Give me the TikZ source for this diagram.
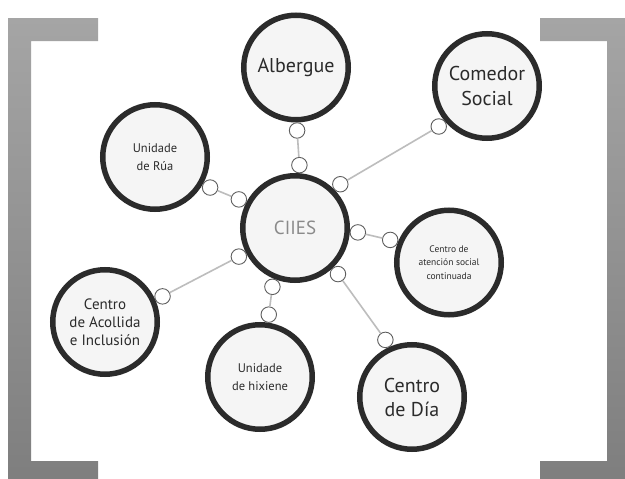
\documentclass[tikz,border=0pt]{standalone}
\usepackage{fontspec}
\setmainfont{PT Sans}
\usetikzlibrary{calc}
\definecolor{ring}{HTML}{2B2B2B}
\definecolor{disc}{HTML}{F5F5F5}
\definecolor{dotline}{HTML}{5E5E5E}
\definecolor{link}{HTML}{BDBDBD}
\definecolor{brtop}{HTML}{A5A5A5}
\definecolor{brbot}{HTML}{7E7E7E}
\definecolor{hubtext}{HTML}{8A8A8A}
\tikzset{
  big/.style={circle, draw=ring, fill=disc, line width=5.5pt, minimum size=104.5pt,
    inner sep=0pt, align=center, text=ring},
  dot/.style={circle, draw=dotline, fill=white, line width=0.9pt, minimum size=15.5pt, inner sep=0pt},
  link/.style={draw=link, line width=1.6pt},
  bracket/.style={top color=brtop, bottom color=brbot, draw=none},
  large/.style={font=\fontsize{20}{25}\selectfont},
  medium/.style={font=\fontsize{15}{18}\selectfont},
  small/.style={font=\fontsize{12.5}{18}\selectfont},
  tiny/.style={font=\fontsize{9.5}{13.5}\selectfont}
}
\begin{document}
\begin{tikzpicture}[x=1pt,y=-1pt]
\useasboundingbox (0,0) rectangle (625,479);
\clip (0,0) rectangle (625,479);
\fill[white] (0,0) rectangle (625,479);
% brackets
\shade[bracket] (8,18) -- (98,18) -- (98,41) -- (31,41) -- (31,461) -- (98,461) -- (98,484) -- (8,484) -- cycle;
\shade[bracket] (540,18) -- (632,18) -- (632,484) -- (540,484) -- (540,461) -- (607,461) -- (607,41) -- (540,41) -- cycle;
% big circles
\node[big, font=\fontsize{19}{22}\selectfont, text=hubtext] (hub) at (295,228) {CIIES};
\node[big, large] (alb) at (296,67.5) {Albergue};
\node[big, large] (com) at (487,86) {Comedor\\Social};
\node[big, small] (rua) at (155,157) {Unidade\\de Rúa};
\node[big, tiny] (ate) at (449,262.5) {Centro de\\atención social\\continuada};
\node[big, medium] (aco) at (105,322) {Centro\\de Acollida\\e Inclusión};
\node[big, small] (hix) at (260,377) {Unidade\\de hixiene};
\node[big, large, font=\fontsize{20}{24}\selectfont] (dia) at (412,397) {Centro\\de Día};
% small connector circles
\node[dot] (h1) at ($(hub)+(86:63pt)$) {};
\node[dot] (h2) at ($(hub)+(44:63pt)$) {};
\node[dot] (h3) at ($(hub)+(153:63pt)$) {};
\node[dot] (h4) at ($(hub)+(-4:63pt)$) {};
\node[dot] (h5) at ($(hub)+(207:63pt)$) {};
\node[dot] (h6) at ($(hub)+(-47:63pt)$) {};
\node[dot] (h7) at ($(hub)+(249:63pt)$) {};
\node[dot] (p1) at ($(alb)+(-89:63pt)$) {};
\node[dot] (p2) at ($(com)+(220:63pt)$) {};
\node[dot] (p3) at ($(rua)+(-29:63pt)$) {};
\node[dot] (p4) at ($(ate)+(159:63pt)$) {};
\node[dot] (p5) at ($(aco)+(24:63pt)$) {};
\node[dot] (p6) at ($(dia)+(115:63pt)$) {};
\node[dot] (p7) at ($(hix)+(82:63pt)$) {};
% connectors
\draw[link] (h1) -- (p1);
\draw[link] (h2) -- (p2);
\draw[link] (h3) -- (p3);
\draw[link] (h4) -- (p4);
\draw[link] (h5) -- (p5);
\draw[link] (h6) -- (p6);
\draw[link] (h7) -- (p7);
\end{tikzpicture}
\end{document}
